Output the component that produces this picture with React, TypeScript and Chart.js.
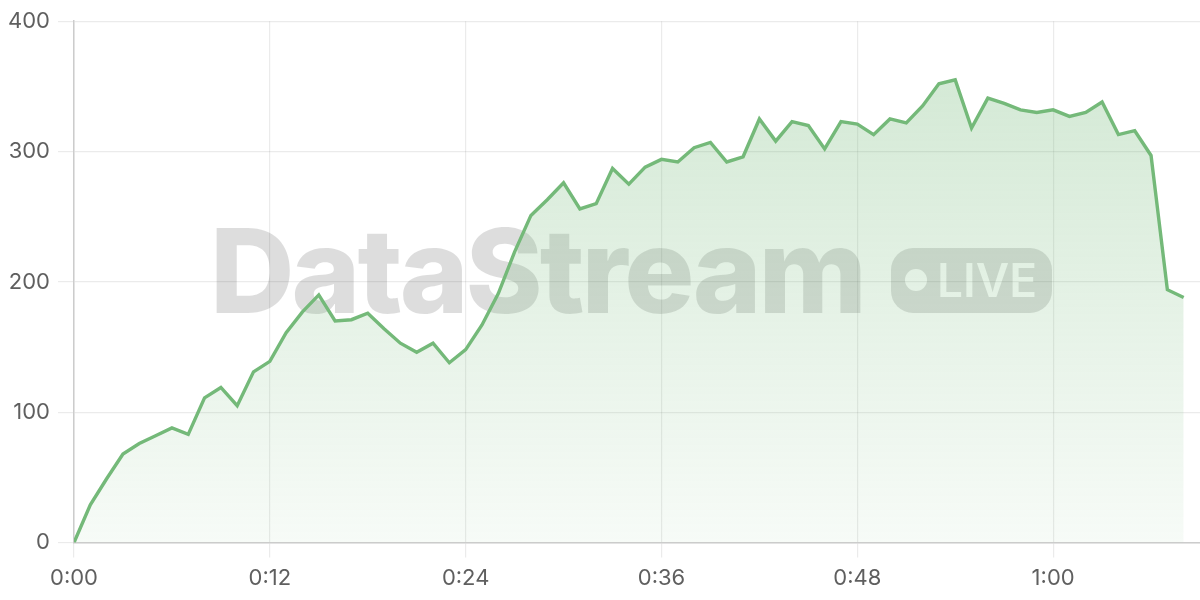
import { useEffect, useRef } from "react"
import { Chart, registerables } from "chart.js"

Chart.register(...registerables)

// one reading per minute, 0:00 .. 1:08
const viewers = [
  0, 29, 49, 68, 76, 82, 88, 83, 111, 119, 105, 131, 139, 161, 177, 190, 170,
  171, 176, 164, 153, 146, 153, 138, 148, 167, 191, 223, 251, 263, 276, 256,
  260, 287, 275, 288, 294, 292, 303, 307, 292, 296, 325, 308, 323, 320, 302,
  323, 321, 313, 325, 322, 335, 352, 355, 318, 341, 337, 332, 330, 332, 327,
  330, 338, 313, 316, 297, 194, 188,
]
const xTickValues = [0, 12, 24, 36, 48, 60]
const xTickLabels = ["0:00", "0:12", "0:24", "0:36", "0:48", "1:00"]
const yTickLabels = ["0", "100", "200", "300", "400"]

const LINE = "#74b979"
const FONT = "Inter, 'Noto Sans', sans-serif"

export default function App() {
  const chartRef = useRef<HTMLCanvasElement>(null)
  const chartInstance = useRef<Chart | null>(null)

  useEffect(() => {
    document.body.style.margin = "0"
    if (!chartRef.current) return
    if (chartInstance.current) chartInstance.current.destroy()
    const ctx = chartRef.current.getContext("2d")
    if (!ctx) return

    // "DataStream LIVE" watermark, under the line and fill
    const watermarkPlugin = {
      id: "watermark",
      beforeDatasetsDraw(chart: Chart) {
        const c = chart.ctx
        c.save()
        c.fillStyle = "rgba(0,0,0,0.135)"
        c.font = `800 117px ${FONT}`
        ;(c as any).letterSpacing = "-3px"
        c.textBaseline = "alphabetic"
        c.textAlign = "left"
        c.fillText("DataStream", 210, 313)
        c.restore()

        // badge with knocked-out dot and text
        const off = document.createElement("canvas")
        off.width = 170
        off.height = 70
        const o = off.getContext("2d")!
        o.fillStyle = "rgba(0,0,0,0.135)"
        o.beginPath()
        o.roundRect(0, 0, 161, 65, 22)
        o.fill()
        o.globalCompositeOperation = "destination-out"
        o.fillStyle = "#000"
        o.beginPath()
        o.arc(25, 32, 11, 0, Math.PI * 2)
        o.fill()
        o.font = `600 46px ${FONT}`
        o.textBaseline = "alphabetic"
        o.fillText("LIVE", 46, 49)
        c.drawImage(off, 891, 248)
      },
    }

    chartInstance.current = new Chart(ctx, {
      type: "line",
      data: {
        datasets: [
          {
            data: viewers.map((v, i) => ({ x: i, y: v })),
            borderColor: LINE,
            borderWidth: 3.4,
            pointRadius: 0,
            tension: 0,
            fill: "origin",
            backgroundColor: (context: any) => {
              const area = context.chart.chartArea
              if (!area) return "rgba(116,185,121,0.2)"
              const g = context.chart.ctx.createLinearGradient(0, area.top, 0, area.bottom)
              g.addColorStop(0, "rgba(116,185,121,0.34)")
              g.addColorStop(1, "rgba(116,185,121,0.06)")
              return g
            },
          },
        ],
      },
      options: {
        animation: false,
        responsive: false,
        layout: { padding: { top: 20, bottom: 0, left: 0, right: 0 } },
        plugins: {
          legend: { display: false },
          tooltip: { enabled: false },
        },
        scales: {
          x: {
            type: "linear",
            min: 0,
            max: 69,
            afterBuildTicks: (scale: any) => {
              scale.ticks = xTickValues.map((v) => ({ value: v }))
            },
            ticks: {
              callback: (v: any) => xTickLabels[xTickValues.indexOf(Number(v))] ?? "",
              color: "#5f5f5f",
              font: { family: FONT, size: 22 },
              padding: 8,
              maxRotation: 0,
            },
            grid: { color: "rgba(0,0,0,0.08)", tickLength: 15, lineWidth: 1.2 },
            border: { color: "#cccccc", width: 1.5 },
          },
          y: {
            min: 0,
            max: 400,
            afterFit: (scale: any) => {
              scale.width = 74
            },
            ticks: {
              stepSize: 100,
              callback: (v: any) => yTickLabels[Number(v) / 100] ?? "",
              color: "#5f5f5f",
              font: { family: FONT, size: 22 },
              padding: 8,
            },
            grid: { color: "rgba(0,0,0,0.08)", tickLength: 16, lineWidth: 1.2 },
            border: { color: "#cccccc", width: 1.5 },
          },
        },
      },
      plugins: [watermarkPlugin],
    })

    return () => {
      if (chartInstance.current) {
        chartInstance.current.destroy()
        chartInstance.current = null
      }
    }
  }, [])

  return (
    <div style={{ width: 1200, height: 600 }}>
      <canvas ref={chartRef} width={1200} height={600} />
    </div>
  )
}
